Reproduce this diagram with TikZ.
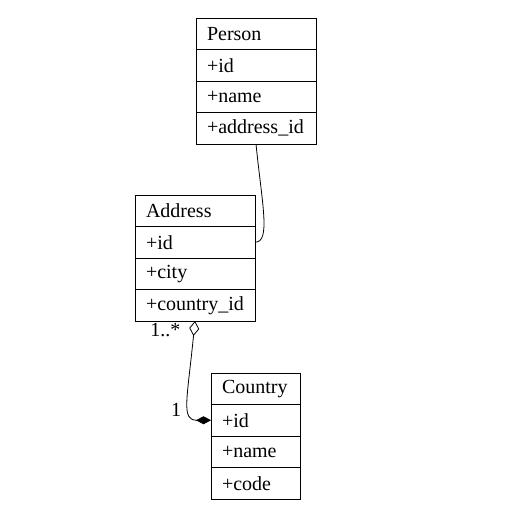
\documentclass[tikz,border=0pt]{standalone}
\usepackage{fontspec}
\setmainfont{Liberation Serif}
\usetikzlibrary{positioning,arrows.meta}

\begin{document}
\begin{tikzpicture}[x=1pt,y=1pt,node distance=0pt,
  every node/.style={font=\fontsize{20}{22}\selectfont},
  row/.style={draw,line width=.8pt,outer sep=0pt,inner xsep=11pt,inner ysep=0pt,minimum height=31.5pt,text width=#1,align=left},
  link/.style={line width=.8pt}]
\useasboundingbox (0,0) rectangle (516,-530);
% Person
\node[row=98pt,anchor=north] (p0) at (256,-18) {Person};
\node[row=98pt,below=of p0] (p1) {+id};
\node[row=98pt,below=of p1] (p2) {+name};
\node[row=98pt,below=of p2] (p3) {+address\_id};
% Address
\node[row=98pt,anchor=north] (a0) at (195,-195) {Address};
\node[row=98pt,below=of a0] (a1) {+id};
\node[row=98pt,below=of a1] (a2) {+city};
\node[row=98pt,below=of a2] (a3) {+country\_id};
% Country
\node[row=67pt,anchor=north] (c0) at (255.5,-373) {Country};
\node[row=67pt,below=of c0] (c1) {+id};
\node[row=67pt,below=of c1] (c2) {+name};
\node[row=67pt,below=of c2] (c3) {+code};
% edges
\draw[link] (p3.south) .. controls ([xshift=6pt,yshift=-60pt]p3.south) and ([xshift=16pt]a1.east) .. (a1.east);
\draw[link,{Diamond[open,length=15pt,width=10pt]}-{Diamond[length=15pt,width=8pt]}] (a3.south) .. controls ([xshift=-8pt,yshift=-80pt]a3.south) and ([xshift=-30pt]c1.west) .. (c1.west);
\node[anchor=east] (many) at ([xshift=-11pt,yshift=-9pt]a3.south) {1..*};
\node (one) at ([xshift=-35pt,yshift=10pt]c1.west) {1};
\end{tikzpicture}
\end{document}
